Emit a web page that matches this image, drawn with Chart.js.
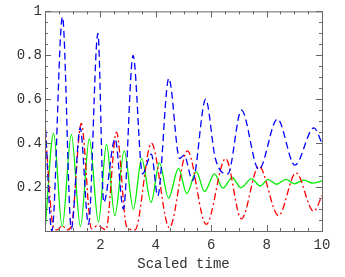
<!DOCTYPE html>
<html>
<head>
<meta charset="utf-8">
<script src="https://cdn.jsdelivr.net/npm/chart.js@4.4.0/dist/chart.umd.min.js"></script>
<style>
  html, body { margin: 0; padding: 0; background: #fff; }
  #chart { display: block; }
</style>
</head>
<body>
<canvas id="chart" width="345" height="277"></canvas>
<script>
// values (time, population)
const blueT = [0, 0.25, 0.63, 0.95, 1.27, 1.57, 1.91, 2.12, 2.53, 2.83, 3.18, 3.52, 3.84, 4.07, 4.47, 4.86, 5.02, 5.33, 5.80, 6.15, 6.6, 7.09, 7.72, 8.39, 9.02, 9.71, 10];
const blueV = [0.51, 0.0, 0.975, 0.01, 0.47, 0.03, 0.90, 0.13, 0.42, 0.10, 0.80, 0.26, 0.35, 0.16, 0.695, 0.33, 0.345, 0.23, 0.60, 0.33, 0.26, 0.55, 0.28, 0.51, 0.30, 0.47, 0.40];

const redT = [0, 0.3, 0.45, 0.62, 0.8, 0.95, 1.31, 1.68, 1.9, 2.2, 2.58, 2.95, 3.25, 3.84, 4.49, 5.14, 5.82, 6.52, 7.09, 7.72, 8.43, 9.06, 9.70, 10];
const redV = [0.48, 0.02, 0.005, 0.025, 0.005, 0.02, 0.49, 0.01, 0.025, 0.005, 0.45, 0.02, 0.005, 0.40, 0.015, 0.365, 0.03, 0.33, 0.055, 0.295, 0.07, 0.265, 0.09, 0.16];

const greenT = [0, 0.31, 0.62, 0.95, 1.28, 1.6, 1.93, 2.22, 2.52, 2.86, 3.19, 3.49, 3.83, 4.13, 4.46, 4.82, 5.12, 5.46, 5.76, 6.12, 6.42, 6.76, 7.07, 7.45, 7.78, 8.05, 8.36, 8.7, 9.0, 9.35, 9.65, 10];
const greenV = [0.0, 0.445, 0.02, 0.44, 0.02, 0.42, 0.04, 0.395, 0.07, 0.365, 0.10, 0.33, 0.13, 0.31, 0.15, 0.285, 0.17, 0.27, 0.18, 0.26, 0.195, 0.243, 0.197, 0.237, 0.205, 0.235, 0.213, 0.235, 0.215, 0.232, 0.218, 0.228];

const xTicks = [2, 4, 6, 8, 10];
const yTicks = [0.2, 0.4, 0.6, 0.8, 1];

const font = { family: "'Liberation Mono', 'DejaVu Sans Mono', monospace", size: 14 };

function pts(ts, vs) {
  return ts.map((t, i) => ({ x: t, y: vs[i] }));
}

// Mathematica-style frame with inward ticks on all four sides
const framePlugin = {
  id: "frame",
  afterDraw(chart) {
    const { ctx, chartArea: a } = chart;
    const x = chart.scales.x, y = chart.scales.y;
    ctx.save();
    ctx.strokeStyle = "#666";
    ctx.lineWidth = 1;
    ctx.strokeRect(a.left + 0.5, a.top + 0.5, a.right - a.left, a.bottom - a.top);
    ctx.beginPath();
    for (let i = 0; i <= 20; i++) {
      const t = i * 0.5;
      const px = Math.round(x.getPixelForValue(t)) + 0.5;
      const len = i % 4 === 0 ? 6 : 3;
      ctx.moveTo(px, a.bottom); ctx.lineTo(px, a.bottom - len);
      ctx.moveTo(px, a.top); ctx.lineTo(px, a.top + len);
    }
    for (let i = 0; i <= 20; i++) {
      const v = i * 0.05;
      const py = Math.round(y.getPixelForValue(v)) + 0.5;
      const len = i % 4 === 0 ? 6 : 3;
      ctx.moveTo(a.left, py); ctx.lineTo(a.left + len, py);
      ctx.moveTo(a.right, py); ctx.lineTo(a.right - len, py);
    }
    ctx.stroke();
    ctx.restore();
  }
};

new Chart(document.getElementById("chart"), {
  type: "line",
  data: {
    datasets: [
      {
        data: pts(blueT, blueV),
        borderColor: "#0000ff",
        borderWidth: 1.3,
        borderDash: [7, 4],
        pointRadius: 0,
        cubicInterpolationMode: "monotone",
        fill: false
      },
      {
        data: pts(redT, redV),
        borderColor: "#ff0000",
        borderWidth: 1.3,
        borderDash: [7, 3, 2, 3],
        pointRadius: 0,
        cubicInterpolationMode: "monotone",
        fill: false
      },
      {
        data: pts(greenT, greenV),
        borderColor: "#00ee00",
        borderWidth: 1.3,
        pointRadius: 0,
        cubicInterpolationMode: "monotone",
        fill: false
      }
    ]
  },
  options: {
    responsive: false,
    animation: false,
    devicePixelRatio: 1,
    layout: { padding: { top: 8, right: 23, left: 0, bottom: 0 } },
    plugins: { legend: { display: false }, tooltip: { enabled: false } },
    scales: {
      x: {
        type: "linear",
        min: 0,
        max: 10,
        afterFit: (s) => { s.height = 46; },
        afterBuildTicks: (s) => { s.ticks = xTicks.map((v) => ({ value: v })); },
        ticks: { color: "#333", font: font, padding: 6, maxRotation: 0 },
        grid: { display: false, drawTicks: false },
        border: { display: false },
        title: { display: true, text: "Scaled time", color: "#333", font: font, padding: { top: 0, bottom: 4 } }
      },
      y: {
        min: 0,
        max: 1,
        afterFit: (s) => { s.width = 45; },
        afterBuildTicks: (s) => { s.ticks = yTicks.map((v) => ({ value: v })); },
        ticks: { color: "#333", font: font, padding: 3, callback: (v) => String(v) },
        grid: { display: false, drawTicks: false },
        border: { display: false }
      }
    }
  },
  plugins: [framePlugin]
});
</script>
</body>
</html>
